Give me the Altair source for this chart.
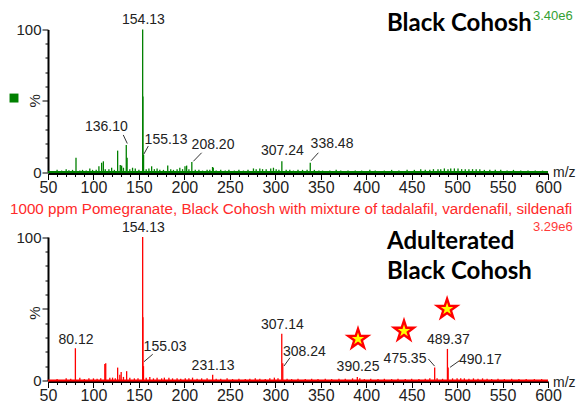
import altair as alt
import pandas as pd

# ---------------- data: top spectrum (Black Cohosh) ----------------
top_mz = [154.13, 154.4, 155.13, 136.10, 137.0, 126.6, 80.8, 109.0, 110.9, 106.0, 131.0, 129.5,
          164.0, 181.7, 200.7, 202.5, 208.20, 231.0, 231.8, 307.24, 338.48,
          60, 65, 70, 73, 77, 85, 88, 92, 96, 99, 103, 113, 117, 120, 123, 133, 140, 143, 146, 150,
          158, 161, 167, 170, 173, 177, 185, 188, 192, 195, 198, 205, 212, 216, 220, 225, 228, 235,
          240, 245, 249, 255, 260, 265, 270, 276, 279, 283, 286, 290, 295, 298, 301, 304, 312, 316,
          320, 325, 330, 335, 343, 348, 352, 360, 367, 372, 380, 388, 395, 404, 410, 420, 428, 436,
          445, 453, 460, 465, 470, 474, 479, 482, 486, 490, 493, 497, 501, 505, 509, 513, 517, 521,
          525, 530, 536, 542, 548, 555, 562, 570, 578, 586, 594]
top_pct = [100, 53, 12, 19, 10, 15, 10, 6.5, 7.5, 4, 4.5, 5,
           4, 4.5, 4, 4.5, 7, 3.5, 3, 7.5, 6.5,
           1.5, 1, 2, 1.2, 1.5, 1, 1.5, 1, 2.5, 1.5, 1.5, 2, 2, 3, 1.5, 3, 2, 3, 2.5, 1.5,
           2, 2.5, 2, 2.5, 1.5, 1.5, 2, 1.5, 2, 3, 2, 2, 1.5, 1.5, 1, 1.5, 1.5, 1,
           1.5, 1, 1.5, 1, 1.5, 1, 1.5, 2.5, 2, 2.5, 2, 2, 2.5, 3, 2, 1.5, 1.5, 1.5,
           1, 1.5, 1.5, 1.5, 1.5, 1, 1, 1, 1.5, 1, 1, 1, 1, 1.5, 1, 1, 1.5, 1,
           1.5, 1.5, 2, 1.5, 1.5, 2, 2, 2, 2.5, 2, 2.5, 2.5, 2.5, 2, 2, 2, 2, 2,
           2, 1.5, 1.5, 1.5, 1.5, 1, 1.5, 1, 1, 1, 1]

top_lab_text = ["154.13", "136.10", "155.13", "208.20", "307.24", "338.48"]
top_lab_x = [155.0, 114.2, 179.8, 231.5, 307.8, 362.4]
top_lab_y = [106.7, 31.4, 22.5, 19.0, 15.0, 19.4]
top_lead_x1 = [132.8, 160.3, 219.0, 347.4]
top_lead_y1 = [26.0, 18.2, 13.5, 13.5]
top_lead_x2 = [137.2, 155.3, 209.9, 339.4]
top_lead_y2 = [20.0, 12.4, 7.5, 7.9]

# ---------------- data: bottom spectrum (Adulterated) ----------------
bot_mz = [154.13, 154.4, 155.03, 80.12, 112.5, 113.5, 126.6, 129.0, 130.5, 136.5, 231.13,
          307.14, 308.24, 390.25, 475.35, 489.37, 490.17,
          60, 70, 75, 85, 90, 95, 100, 104, 108, 118, 121, 124, 133, 140, 145, 149, 158, 162, 166,
          170, 175, 178, 183, 187, 192, 196, 201, 205, 209, 214, 219, 225, 235, 240, 247, 253, 260,
          267, 272, 278, 283, 289, 294, 299, 303, 313, 318, 325, 333, 340, 347, 355, 362, 370, 377,
          385, 393, 398, 405, 413, 420, 428, 435, 443, 450, 458, 465, 470, 478, 484, 495, 500, 504,
          508, 513, 518, 523, 528, 533, 538, 545, 552, 560, 568, 576, 585, 593]
bot_pct = [100, 44, 10, 22.5, 11.5, 12, 9, 4, 6, 6.5, 4,
           32.5, 12, 2.5, 9, 22, 9,
           1, 1.5, 1.2, 2, 1, 1.5, 1.5, 1.2, 1.5, 2, 2, 1.5, 2.5, 2, 1.5, 1.5, 2, 2.5, 1.5,
           2, 1.5, 2, 2, 1.5, 1.5, 1.2, 1.5, 1.5, 2, 1.2, 1.5, 1.5, 1.2, 1.2, 1.5, 1, 1.2,
           1, 1.2, 1.5, 1.2, 1, 1.5, 2, 1.5, 1.2, 1, 1.2, 1, 1.2, 1, 1.2, 1, 1.2, 1.2,
           1.5, 1.5, 1, 1.2, 1, 1.2, 1, 1.2, 1, 1.2, 1, 1.2, 1.5, 1.5, 1.2, 1.5, 1.5, 1.5,
           1.5, 1.2, 1.5, 1.2, 1.5, 1.2, 1, 1.2, 1, 1.2, 1, 1, 1, 1]

bot_lab_text = ["154.13", "80.12", "155.03", "231.13", "307.14", "308.24", "390.25",
                "475.35", "489.37", "490.17"]
bot_lab_x = [154.9, 80.8, 178.7, 231.5, 307.8, 332.0, 391.0, 442.7, 490.4, 525.6]
bot_lab_y = [106.0, 28.2, 23.6, 10.3, 38.7, 20.0, 9.6, 15.0, 28.4, 14.3]
bot_lead_x1 = [165.2, 316.2, 468.4, 502.5]
bot_lead_y1 = [18.3, 15.9, 15.0, 13.8]
bot_lead_x2 = [155.6, 309.6, 475.3, 492.3]
bot_lead_y2 = [13.1, 10.1, 10.0, 9.2]

star_x = [391.0, 441.6, 489.0]
star_y = [28.9, 34.5, 49.8]

title_red = "1000 ppm Pomegranate, Black Cohosh with mixture of tadalafil, vardenafil, sildenafi"

GREEN = "#008000"
RED = "#ff0000"
TXT = "#222222"
FONT = "Liberation Sans"
STAR = ("M0,-1L0.2245,-0.309L0.951,-0.309L0.3633,0.118L0.5878,0.809L0,0.382"
        "L-0.5878,0.809L-0.3633,0.118L-0.951,-0.309L-0.2245,-0.309Z")

W, H = 500, 351
TOP_RANGE = [142.5, 0]
BOT_RANGE = [351, 207.5]


def make_axes(xoff):
    xa = alt.Axis(orient="bottom", offset=xoff, values=list(range(50, 601, 10)),
                  labelExpr="datum.value % 50 === 0 ? datum.label : ''",
                  tickSize={"condition": {"test": "datum.value % 50 === 0", "value": 6}, "value": 3},
                  domainColor="black", domainWidth=2, tickColor="black", tickWidth=1,
                  labelColor=TXT, labelFont=FONT, labelFontSize=16, labelPadding=0,
                  labelOverlap=False, labelFlush=False, grid=False, title=None)
    ya = alt.Axis(orient="left", values=list(range(0, 101, 10)),
                  labelExpr="datum.value === 0 || datum.value === 100 ? datum.label : ''",
                  tickSize={"condition": {"test": "datum.value % 50 === 0", "value": 6}, "value": 3},
                  domainColor="black", domainWidth=2, tickColor="black", tickWidth=1,
                  labelColor=TXT, labelFont=FONT, labelFontSize=15, labelPadding=1,
                  labelOverlap=False, labelFlush=False, grid=False, title=None)
    return xa, ya


def panel(mz, pct, lt, lx, ly, l1x, l1y, l2x, l2y, color, yrange, xoff, extra):
    xa, ya = make_axes(xoff)
    xs = alt.Scale(domain=[50, 600], nice=False, zero=False)
    ys = alt.Scale(domain=[0, 100], range=yrange, nice=False, zero=False)

    def X(f):
        return alt.X(f, type="quantitative", scale=xs, axis=xa)

    def Y(f):
        return alt.Y(f, type="quantitative", scale=ys, axis=ya)

    peaks = pd.DataFrame({"mz": mz, "pct": pct})
    labs = pd.DataFrame({"t": lt, "lx": lx, "ly": ly})
    leads = pd.DataFrame({"x1": l1x, "y1": l1y, "x2": l2x, "y2": l2y})

    base = alt.Chart(pd.DataFrame({"a": [0]})).mark_rule(color=color, strokeWidth=2).encode(
        x=alt.X(datum=50, type="quantitative", scale=xs, axis=xa),
        x2=alt.X2(datum=600),
        y=alt.Y(datum=0, type="quantitative", scale=ys, axis=ya))
    bars = alt.Chart(peaks).mark_rule(color=color, strokeWidth=1.3).encode(
        x=X("mz"), y=Y("pct"), y2=alt.Y2(datum=0))
    texts = alt.Chart(labs).mark_text(font=FONT, fontSize=14, color=TXT, baseline="middle").encode(
        x=X("lx"), y=Y("ly"), text="t:N")
    lines = alt.Chart(leads).mark_rule(color="#333333", strokeWidth=1).encode(
        x=X("x1"), y=Y("y1"), x2="x2:Q", y2="y2:Q")
    layers = [base, bars, lines, texts]
    for ch in extra:
        layers.append(ch(X, Y))
    return alt.layer(*layers)


def txt(df, **kw):
    def f(X, Y):
        return alt.Chart(df).mark_text(**kw).encode(x=X("x"), y=Y("y"), text="t:N")
    return f


def top_extras():
    return [
        txt(pd.DataFrame({"x": [422.9], "y": [103.9], "t": ["Black Cohosh"]}),
            font="Lato", fontWeight="bold", fontSize=24, color="black", align="left", baseline="middle"),
        txt(pd.DataFrame({"x": [583.5], "y": [109.5], "t": ["3.40e6"]}),
            font=FONT, fontSize=13, color="#33a033", align="left", baseline="middle"),
        txt(pd.DataFrame({"x": [605.5], "y": [-1.0], "t": ["m/z"]}),
            font=FONT, fontSize=14, color=TXT, align="left", baseline="middle"),
        txt(pd.DataFrame({"x": [35.5], "y": [50.0], "t": ["%"]}),
            font=FONT, fontSize=15, color=TXT, angle=270, align="center", baseline="middle"),
        lambda X, Y: alt.Chart(pd.DataFrame({"x": [12.6], "y": [51.9]})).mark_square(
            size=80, color=GREEN, opacity=1).encode(x=X("x"), y=Y("y")),
    ]


def bot_extras():
    stars = pd.DataFrame({"x": star_x, "y": star_y})
    return [
        txt(pd.DataFrame({"x": [8.2], "y": [119.5], "t": [title_red]}),
            font=FONT, fontSize=15.2, color="#ff2a2a", align="left", baseline="middle"),
        txt(pd.DataFrame({"x": [583.5], "y": [107.2], "t": ["3.29e6"]}),
            font=FONT, fontSize=13, color="#ff3a3a", align="left", baseline="middle"),
        txt(pd.DataFrame({"x": [422.9, 422.9], "y": [96.5, 75.6], "t": ["Adulterated", "Black Cohosh"]}),
            font="Lato", fontWeight="bold", fontSize=24, color="black", align="left", baseline="middle"),
        txt(pd.DataFrame({"x": [605.5], "y": [-1.7], "t": ["m/z"]}),
            font=FONT, fontSize=14, color=TXT, align="left", baseline="middle"),
        txt(pd.DataFrame({"x": [35.5], "y": [47.0], "t": ["%"]}),
            font=FONT, fontSize=15, color=TXT, angle=270, align="center", baseline="middle"),
        lambda X, Y: alt.Chart(stars).mark_point(shape=STAR, size=800, filled=True, color=RED,
                                                 opacity=1).encode(x=X("x"), y=Y("y")),
        lambda X, Y: alt.Chart(stars).mark_point(shape=STAR, size=170, filled=True, color="#ffff00",
                                                 opacity=1).encode(x=X("x"), y=Y("y")),
    ]


top = panel(top_mz, top_pct, top_lab_text, top_lab_x, top_lab_y,
            top_lead_x1, top_lead_y1, top_lead_x2, top_lead_y2,
            GREEN, TOP_RANGE, -207, top_extras())
bot = panel(bot_mz, bot_pct, bot_lab_text, bot_lab_x, bot_lab_y,
            bot_lead_x1, bot_lead_y1, bot_lead_x2, bot_lead_y2,
            RED, BOT_RANGE, 1, bot_extras())

chart = alt.layer(top, bot).resolve_scale(
    x="independent", y="independent"
).resolve_axis(
    x="independent", y="independent"
).properties(
    width=W, height=H,
    autosize=alt.AutoSizeParams(type="none"),
    padding={"left": 40, "top": 21.5, "right": 28, "bottom": 27},
).configure_view(stroke=None)

chart.save("out.html", embed_options={"renderer": "svg", "actions": False})
